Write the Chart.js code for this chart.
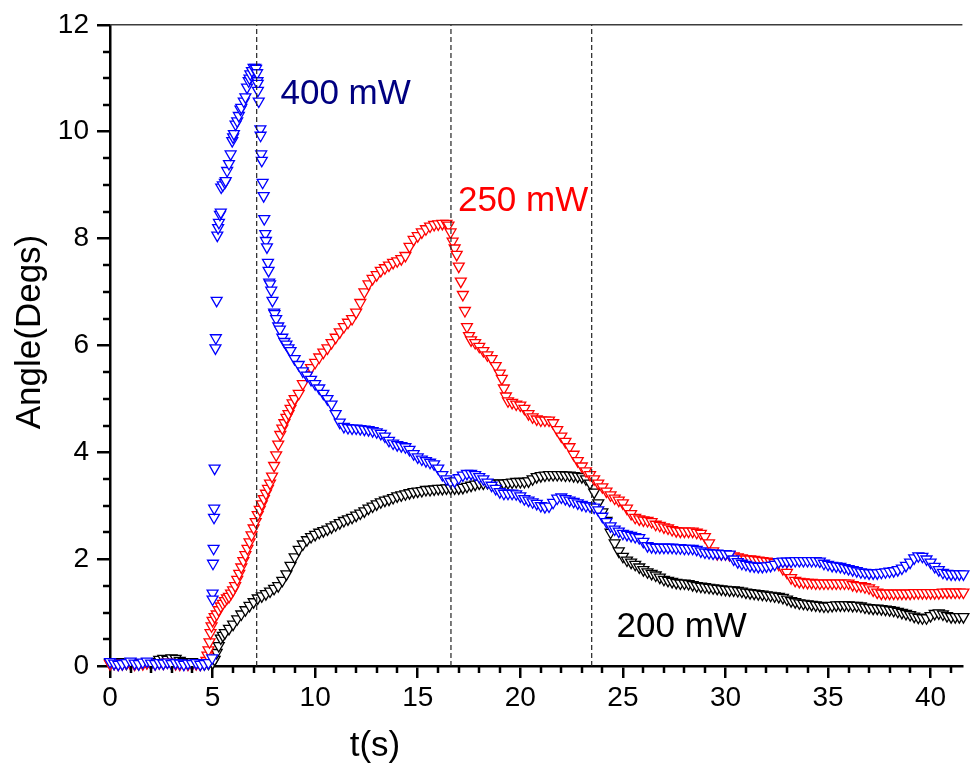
<!DOCTYPE html>
<html>
<head>
<meta charset="utf-8">
<title>Angle vs t</title>
<script src="https://cdn.jsdelivr.net/npm/chart.js@4.4.1/dist/chart.umd.min.js"></script>
<style>
  html, body { margin: 0; padding: 0; background: #fff; overflow: hidden; }
  canvas { display: block; }
</style>
</head>
<body>
<canvas id="myChart" width="970" height="767"></canvas>
<script>
// time samples shared by the three runs (s)
var tGrid = [
    0,0.2,0.4,0.6,0.8,1,1.2,1.4,1.6,1.8,
    2,2.2,2.4,2.6,2.8,3,3.2,3.4,3.6,3.8,
    4,4.2,4.4,4.6,4.8,5,5.2,5.4,5.6,5.8,
    6,6.2,6.4,6.6,6.8,7,7.2,7.4,7.6,7.8,
    8,8.2,8.4,8.6,8.8,9,9.2,9.4,9.6,9.8,
    10,10.2,10.4,10.6,10.8,11,11.2,11.4,11.6,11.8,
    12,12.2,12.4,12.6,12.8,13,13.2,13.4,13.6,13.8,
    14,14.2,14.4,14.6,14.8,15,15.2,15.4,15.6,15.8,
    16,16.2,16.4,16.6,16.8,17,17.2,17.4,17.6,17.8,
    18,18.2,18.4,18.6,18.8,19,19.2,19.4,19.6,19.8,
    20,20.2,20.4,20.6,20.8,21,21.2,21.4,21.6,21.8,
    22,22.2,22.4,22.6,22.8,23,23.2,23.4,23.6,23.8,
    24,24.2,24.4,24.6,24.8,25,25.2,25.4,25.6,25.8,
    26,26.2,26.4,26.6,26.8,27,27.2,27.4,27.6,27.8,
    28,28.2,28.4,28.6,28.8,29,29.2,29.4,29.6,29.8,
    30,30.2,30.4,30.6,30.8,31,31.2,31.4,31.6,31.8,
    32,32.2,32.4,32.6,32.8,33,33.2,33.4,33.6,33.8,
    34,34.2,34.4,34.6,34.8,35,35.2,35.4,35.6,35.8,
    36,36.2,36.4,36.6,36.8,37,37.2,37.4,37.6,37.8,
    38,38.2,38.4,38.6,38.8,39,39.2,39.4,39.6,39.8,
    40,40.2,40.4,40.6,40.8,41,41.2,41.4,41.6
];

// angle (degs) on tGrid
var a400 = [
    0.08,0.05,0.03,0.04,0.06,0.09,0.05,0.04,0.07,0.09,
    0.05,0.04,0.06,0.05,0.07,0.04,0.06,0.05,0.03,0.05,
    0.04,0.06,0.03,0.04,0.06,1.36,6.84,8.49,9.05,9.4,
    9.9,10.2,10.45,10.65,11.0,11.2,10.9,9.46,7.96,7.15,
    6.62,6.36,6.15,6.02,5.9,5.75,5.64,5.52,5.44,5.36,
    5.28,5.2,5.1,5.0,4.9,4.72,4.56,4.48,4.46,4.45,
    4.45,4.44,4.43,4.42,4.4,4.38,4.35,4.3,4.22,4.17,
    4.14,4.12,4.1,4.05,3.97,3.91,3.87,3.84,3.81,3.78,
    3.7,3.58,3.5,3.45,3.46,3.52,3.57,3.6,3.6,3.58,
    3.54,3.5,3.44,3.38,3.32,3.26,3.23,3.23,3.23,3.22,
    3.18,3.13,3.1,3.07,3.04,3.0,2.98,2.99,3.06,3.14,
    3.16,3.13,3.1,3.08,3.05,3.02,3.0,2.99,2.97,2.92,
    2.8,2.7,2.62,2.56,2.52,2.48,2.46,2.44,2.42,2.4,
    2.33,2.25,2.23,2.22,2.22,2.22,2.22,2.22,2.21,2.21,
    2.2,2.2,2.2,2.18,2.15,2.13,2.12,2.11,2.11,2.1,
    2.1,2.09,2.0,1.95,1.92,1.9,1.88,1.87,1.86,1.86,
    1.87,1.88,1.9,1.95,1.96,1.96,1.96,1.97,1.97,1.97,
    1.97,1.97,1.97,1.96,1.92,1.9,1.88,1.87,1.86,1.84,
    1.82,1.8,1.78,1.76,1.75,1.74,1.74,1.74,1.75,1.76,
    1.77,1.78,1.8,1.83,1.88,1.94,2.02,2.06,2.05,2.0,
    1.94,1.86,1.8,1.75,1.73,1.72,1.72,1.72,1.72
];
var a250 = [
    0.04,0.05,0.03,0.04,0.06,0.04,0.03,0.05,0.04,0.06,
    0.05,0.04,0.06,0.05,0.07,0.05,0.04,0.03,0.04,0.03,
    0.03,0.04,0.03,0.05,0.3,0.85,0.97,1.12,1.22,1.3,
    1.42,1.62,1.85,2.08,2.32,2.58,2.83,3.03,3.23,3.42,
    3.75,4.15,4.45,4.65,4.82,5.0,5.1,5.28,5.45,5.58,
    5.68,5.78,5.87,5.95,6.05,6.15,6.25,6.35,6.43,6.5,
    6.62,6.8,7.0,7.15,7.25,7.32,7.4,7.45,7.5,7.55,
    7.58,7.62,7.68,7.85,7.98,8.05,8.12,8.18,8.23,8.26,
    8.27,8.28,8.28,8.12,7.82,7.48,6.95,6.35,6.1,6.05,
    5.98,5.9,5.82,5.75,5.62,5.48,5.2,4.96,4.93,4.9,
    4.88,4.82,4.72,4.66,4.62,4.6,4.6,4.6,4.55,4.42,
    4.3,4.2,4.1,3.96,3.84,3.74,3.65,3.58,3.5,3.42,
    3.35,3.27,3.2,3.14,3.1,3.05,2.95,2.85,2.78,2.75,
    2.73,2.72,2.7,2.65,2.63,2.6,2.58,2.55,2.53,2.52,
    2.52,2.52,2.52,2.5,2.48,2.42,2.3,2.15,2.1,2.1,
    2.1,2.08,2.06,2.04,2.02,2.0,2.0,1.99,1.98,1.97,
    1.96,1.95,1.93,1.9,1.82,1.75,1.65,1.6,1.58,1.57,
    1.56,1.56,1.55,1.55,1.55,1.55,1.55,1.55,1.55,1.55,
    1.55,1.52,1.5,1.5,1.48,1.46,1.42,1.38,1.36,1.36,
    1.36,1.36,1.36,1.36,1.36,1.36,1.37,1.37,1.37,1.37,
    1.37,1.37,1.37,1.38,1.38,1.38,1.38,1.38,1.38
];
var a200 = [
    0.06,0.05,0.08,0.06,0.05,0.07,0.06,0.04,0.06,0.07,
    0.06,0.08,0.12,0.14,0.12,0.15,0.14,0.1,0.08,0.06,
    0.08,0.06,0.05,0.04,0.05,0.06,0.25,0.52,0.62,0.7,
    0.78,0.88,0.97,1.05,1.13,1.2,1.27,1.31,1.35,1.4,
    1.45,1.5,1.6,1.72,1.88,2.04,2.18,2.28,2.36,2.42,
    2.46,2.5,2.53,2.56,2.6,2.64,2.68,2.72,2.75,2.78,
    2.82,2.86,2.9,2.95,2.99,3.03,3.07,3.1,3.12,3.15,
    3.18,3.2,3.22,3.24,3.26,3.27,3.28,3.3,3.3,3.31,
    3.32,3.32,3.33,3.33,3.33,3.33,3.34,3.36,3.38,3.4,
    3.42,3.42,3.43,3.42,3.42,3.42,3.42,3.43,3.44,3.45,
    3.45,3.45,3.46,3.5,3.54,3.56,3.57,3.58,3.58,3.58,
    3.58,3.57,3.57,3.56,3.55,3.54,3.5,3.42,3.25,3.05,
    2.88,2.72,2.5,2.3,2.15,2.05,1.98,1.94,1.9,1.85,
    1.8,1.76,1.73,1.7,1.66,1.62,1.6,1.58,1.56,1.55,
    1.55,1.54,1.52,1.5,1.49,1.48,1.47,1.46,1.45,1.44,
    1.43,1.42,1.42,1.41,1.4,1.38,1.37,1.36,1.35,1.34,
    1.33,1.32,1.31,1.3,1.28,1.25,1.22,1.2,1.18,1.17,
    1.16,1.15,1.14,1.13,1.12,1.12,1.13,1.14,1.14,1.14,
    1.14,1.13,1.13,1.12,1.1,1.09,1.08,1.08,1.07,1.06,
    1.05,1.04,1.02,1.0,0.98,0.96,0.93,0.91,0.9,0.9,
    0.94,0.98,0.99,0.97,0.94,0.92,0.92,0.92,0.92
];

// extra samples where the angle changes fast
var tFast400 = [4.98,5.0,5.02,5.05,5.07,5.08,5.1,5.14,5.16,5.23,
    5.27,5.31,5.36,5.42,5.5,5.64,5.71,5.88,5.96,6.04,
    6.12,6.28,6.36,6.52,6.68,6.76,6.84,6.92,7.08,7.12,
    7.17,7.19,7.21,7.25,7.33,7.34,7.37,7.44,7.49,7.52,
    7.57,7.65,7.7,7.73,7.76,7.86,7.92,8.02,8.1,8.28,
    8.5,8.7];
var aFast400 = [0.15,1.25,1.92,2.2,2.78,2.95,3.7,5.95,6.14,8.06,
    8.2,8.3,8.45,8.96,9.0,9.08,9.27,9.58,9.83,9.96,
    10.14,10.3,10.42,10.57,10.83,10.95,11.08,11.14,11.2,11.18,
    11.1,10.95,10.77,10.57,10.05,9.93,9.58,9.05,8.8,8.37,
    8.09,7.84,7.55,7.4,7.18,7.03,6.84,6.59,6.5,6.3,
    6.07,5.95];
var tFast250 = [4.7,4.75,4.85,4.9,4.95,5.1,5.3,5.5,5.7,5.9,
    6.1,6.3,6.5,6.7,6.9,7.1,7.3,7.5,7.7,7.9,
    8.1,8.3,8.5,8.7,8.9,16.5,16.7,16.9,17.1,17.3,
    17.5,19.1,19.3];
var aFast250 = [0.1,0.2,0.45,0.62,0.75,0.92,1.05,1.17,1.27,1.36,
    1.5,1.73,1.97,2.2,2.45,2.7,2.93,3.13,3.32,3.55,
    3.95,4.33,4.55,4.72,4.92,8.25,7.95,7.7,7.2,6.65,
    6.18,5.38,5.05];
var tFast200 = [5.1,5.3,5.5];
var aFast200 = [0.12,0.38,0.57];

// dashed markers (s)
var markTimes = [7.15, 16.62, 23.48];

var seriesNames = ["400 mW", "250 mW", "200 mW"];
var seriesColors = ["#0000ff", "#ff0000", "#000000"];
var labelColors = ["#000080", "#ff0000", "#000000"];
// where each power label sits, in data units (t, angle at baseline)
var labelAt = [[8.31, 10.52], [16.96, 8.52], [24.69, 0.54]];

function points(t, a, tx, ax) {
    var pts = [];
    for (var i = 0; i < t.length; i++) pts.push({x: t[i], y: a[i]});
    for (var j = 0; j < tx.length; j++) pts.push({x: tx[j], y: ax[j]});
    pts.sort(function (p, q) { return p.x - q.x; });
    return pts;
}

var FONT = "'Liberation Sans', Arial, sans-serif";

var decor = {
    id: 'decor',
    afterDraw: function (chart) {
        var ctx = chart.ctx;
        var xs = chart.scales.x, ys = chart.scales.y, area = chart.chartArea;
        ctx.save();
        // top frame
        ctx.strokeStyle = '#3c3c3c';
        ctx.lineWidth = 1.4;
        ctx.beginPath();
        ctx.moveTo(area.left, area.top);
        ctx.lineTo(area.right, area.top);
        ctx.stroke();
        // minor ticks
        ctx.strokeStyle = '#000';
        ctx.lineWidth = 2.5;
        for (var t = 1; t <= 41; t++) {
            if (t % 5 === 0) continue;
            var px = Math.round(xs.getPixelForValue(t));
            ctx.beginPath();
            ctx.moveTo(px, area.bottom);
            ctx.lineTo(px, area.bottom + 7);
            ctx.stroke();
        }
        for (var k = 1; k < 24; k++) {
            if (k % 4 === 0) continue;
            var py = Math.round(ys.getPixelForValue(k / 2));
            ctx.beginPath();
            ctx.moveTo(area.left - 7, py);
            ctx.lineTo(area.left, py);
            ctx.stroke();
        }
        // axis titles
        ctx.fillStyle = '#000';
        ctx.font = '35px ' + FONT;
        ctx.textAlign = 'center';
        ctx.textBaseline = 'middle';
        ctx.save();
        ctx.translate(30, 332);
        ctx.rotate(-Math.PI / 2);
        ctx.fillText('Angle(Degs)', 0, 0);
        ctx.restore();
        ctx.textBaseline = 'alphabetic';
        ctx.fillText('t(s)', 375, 756);
        // power labels
        ctx.textAlign = 'left';
        for (var i = 0; i < seriesNames.length; i++) {
            ctx.fillStyle = labelColors[i];
            ctx.fillText(seriesNames[i], xs.getPixelForValue(labelAt[i][0]), ys.getPixelForValue(labelAt[i][1]));
        }
        ctx.restore();
    }
};

var datasets = [];
for (var m = 0; m < markTimes.length; m++) {
    datasets.push({
        type: 'line',
        data: [{x: markTimes[m], y: 0}, {x: markTimes[m], y: 12}],
        borderColor: '#222',
        borderWidth: 1.2,
        borderDash: [5, 3],
        pointRadius: 0,
        fill: false
    });
}
var fast = [[tFast400, aFast400], [tFast250, aFast250], [tFast200, aFast200]];
var vals = [a400, a250, a200];
for (var s = 0; s < 3; s++) {
    datasets.push({
        label: seriesNames[s],
        data: points(tGrid, vals[s], fast[s][0], fast[s][1]),
        pointStyle: 'triangle',
        rotation: 180,
        pointRadius: 6.3,
        pointBorderWidth: 1.3,
        borderColor: seriesColors[s],
        backgroundColor: '#fff',
        showLine: false,
        clip: false
    });
}

var ctx = document.getElementById("myChart");
var myChart = new Chart(ctx, {
    type: 'scatter',
    data: { datasets: datasets },
    options: {
        responsive: false,
        animation: false,
        devicePixelRatio: 1,
        layout: { padding: { top: 24, right: 0, left: 0, bottom: 0 } },
        plugins: { legend: { display: false }, tooltip: { enabled: false } },
        scales: {
            x: {
                type: 'linear',
                position: 'bottom',
                min: 0,
                max: 41.55,
                afterFit: function (scale) { scale.height = 101; },
                ticks: {
                    stepSize: 5,
                    includeBounds: false,
                    autoSkip: false,
                    maxRotation: 0,
                    padding: 3,
                    color: '#000',
                    font: { family: FONT, size: 28 }
                },
                grid: {
                    drawOnChartArea: false,
                    drawTicks: true,
                    tickLength: 12,
                    tickWidth: 2.5,
                    lineWidth: 2.5,
                    tickColor: '#000'
                },
                border: { display: true, width: 2.5, color: '#000' }
            },
            y: {
                type: 'linear',
                position: 'left',
                min: 0,
                max: 12,
                afterFit: function (scale) { scale.width = 110; },
                ticks: {
                    stepSize: 2,
                    includeBounds: false,
                    padding: 8,
                    color: '#000',
                    font: { family: FONT, size: 28 }
                },
                grid: {
                    drawOnChartArea: false,
                    drawTicks: true,
                    tickLength: 13,
                    tickWidth: 2.5,
                    lineWidth: 2.5,
                    tickColor: '#000'
                },
                border: { display: true, width: 2.5, color: '#000' }
            }
        }
    },
    plugins: [decor]
});
</script>
</body>
</html>
